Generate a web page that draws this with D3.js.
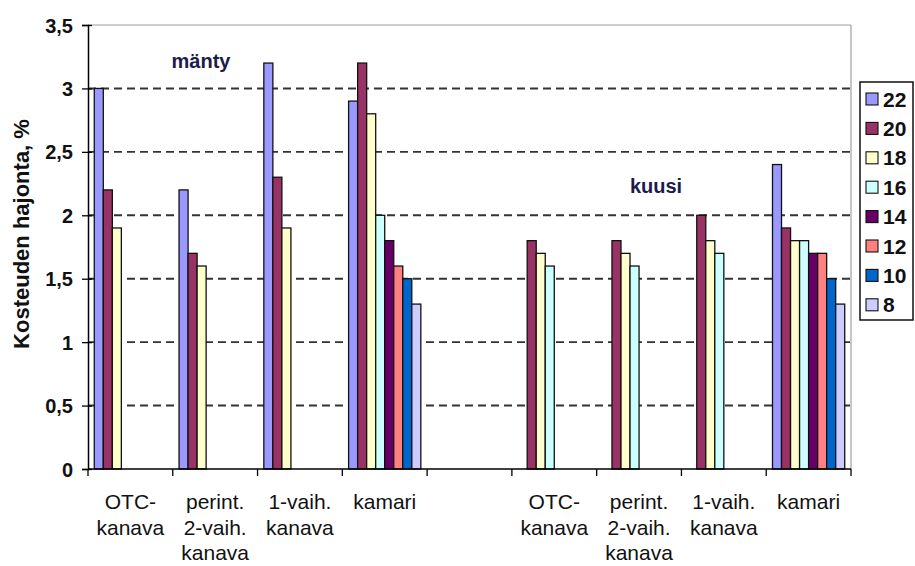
<!DOCTYPE html>
<html><head><meta charset="utf-8">
<script src="https://cdn.jsdelivr.net/npm/d3@7/dist/d3.min.js"></script>
<style>body{margin:0;background:#fff}svg{display:block}</style>
</head><body>
<svg id="chart" width="915" height="566"></svg>
<script>
// ---- data ----
const series = ["22","20","18","16","14","12","10","8"];
const seriesColors = ["#9999FF","#993366","#FFFFCC","#CCFFFF","#660066","#FF8080","#0066CC","#CCCCFF"];
const categoryIds = ["m1","m2","m3","m4","gap","k1","k2","k3","k4"];
const categoryLabels = [["OTC-","kanava"],["perint.","2-vaih.","kanava"],["1-vaih.","kanava"],["kamari"],[],["OTC-","kanava"],["perint.","2-vaih.","kanava"],["1-vaih.","kanava"],["kamari"]];
// values per category, in order of series 22,20,18,16,14,12,10,8 (null = no bar)
const manty_OTC    = [3.0, 2.2, 1.9, null, null, null, null, null];
const manty_perint = [2.2, 1.7, 1.6, null, null, null, null, null];
const manty_1vaih  = [3.2, 2.3, 1.9, null, null, null, null, null];
const manty_kamari = [2.9, 3.2, 2.8, 2.0, 1.8, 1.6, 1.5, 1.3];
const gapValues    = [null, null, null, null, null, null, null, null];
const kuusi_OTC    = [null, 1.8, 1.7, 1.6, null, null, null, null];
const kuusi_perint = [null, 1.8, 1.7, 1.6, null, null, null, null];
const kuusi_1vaih  = [null, 2.0, 1.8, 1.7, null, null, null, null];
const kuusi_kamari = [2.4, 1.9, 1.8, 1.8, 1.7, 1.7, 1.5, 1.3];
const yTicks = [0,0.5,1,1.5,2,2.5,3,3.5];
const yTitle = "Kosteuden hajonta, %";
const groupTitles = ["mänty", "kuusi"];

const allValues = [manty_OTC, manty_perint, manty_1vaih, manty_kamari, gapValues, kuusi_OTC, kuusi_perint, kuusi_1vaih, kuusi_kamari];

// ---- layout ----
const svg = d3.select("#chart");
const L = 88, R = 851, T = 25, B = 469;
const y = d3.scaleLinear().domain([0,3.5]).range([B,T]);
const x0 = d3.scaleBand().domain(categoryIds).range([L,R]).padding(0);
const bw = x0.bandwidth();
const x1 = d3.scaleBand().domain(series).range([bw*0.074, bw*(1-0.074)]).padding(0);
const color = d3.scaleOrdinal().domain(series).range(seriesColors);
const fontB = "'Liberation Sans', Arial, sans-serif";

// plot border (top & right)
svg.append("line").attr("x1",L).attr("x2",R).attr("y1",T).attr("y2",T).attr("stroke","#a0a0a0").attr("stroke-width",1.2);
svg.append("line").attr("x1",R).attr("x2",R).attr("y1",T).attr("y2",B).attr("stroke","#a0a0a0").attr("stroke-width",1.2);

// gridlines
svg.append("g").selectAll("line").data(yTicks.filter(t=>t>0 && t<3.5)).join("line")
  .attr("x1",L).attr("x2",R).attr("y1",d=>y(d)).attr("y2",d=>y(d))
  .attr("stroke","#333").attr("stroke-width",1.9).attr("stroke-dasharray","8,5");

// bars
const groups = svg.append("g").selectAll("g").data(categoryIds).join("g")
  .attr("transform",d=>`translate(${x0(d)},0)`);
groups.selectAll("rect").data((d,i)=>series.map((s,j)=>({s, v: allValues[i][j]})).filter(e=>e.v!=null)).join("rect")
  .attr("x",d=>x1(d.s)).attr("width",x1.bandwidth())
  .attr("y",d=>y(d.v)).attr("height",d=>B-y(d.v))
  .attr("fill",d=>color(d.s)).attr("stroke","#111").attr("stroke-width",1.3);

// y axis
const yAxis = d3.axisLeft(y).tickValues(yTicks).tickSize(6).tickFormat(d=>d3.format("")(d).replace(".",","));
const ya = svg.append("g").attr("transform",`translate(${L},0)`).call(yAxis);
ya.select(".domain").attr("stroke","#000").attr("stroke-width",1.5);
ya.selectAll(".tick line").attr("stroke","#000").attr("stroke-width",1.3).attr("x2",-6).attr("x1",4);
ya.selectAll(".tick text").attr("x",-15).attr("dy","0.35em")
  .style("font-family",fontB).style("font-size","20px").style("font-weight","bold").attr("fill","#111");

// x axis (ticks at band boundaries)
const boundaries = categoryIds.map(c=>x0(c)).concat([R]);
svg.append("line").attr("x1",L).attr("x2",R).attr("y1",B).attr("y2",B).attr("stroke","#000").attr("stroke-width",1.5);
svg.append("g").selectAll("line").data(boundaries).join("line")
  .attr("x1",d=>d).attr("x2",d=>d).attr("y1",B).attr("y2",B+7).attr("stroke","#000").attr("stroke-width",1.3);

// category labels
const lab = svg.append("g").selectAll("text").data(categoryIds).join("text")
  .attr("text-anchor","middle")
  .style("font-family","'Liberation Sans', Arial, sans-serif").style("font-size","21px").attr("fill","#111");
lab.each(function(d,i){
  const t = d3.select(this);
  categoryLabels[i].forEach((ln,k)=>{
    t.append("tspan").attr("x",x0(d)+bw/2).attr("y",509+k*25.5).text(ln);
  });
});

// y title
svg.append("text").attr("transform","translate(29,234) rotate(-90)").attr("text-anchor","middle")
  .style("font-family",fontB).style("font-size","22px").style("font-weight","bold").attr("fill","#111").text(yTitle);

// group titles
svg.append("text").attr("x",201).attr("y",68).attr("text-anchor","middle")
  .style("font-family",fontB).style("font-size","20px").style("font-weight","bold").attr("fill","#1c1c4c").text(groupTitles[0]);
svg.append("text").attr("x",656).attr("y",193).attr("text-anchor","middle")
  .style("font-family",fontB).style("font-size","20px").style("font-weight","bold").attr("fill","#1c1c4c").text(groupTitles[1]);

// legend
const lg = svg.append("g");
lg.append("rect").attr("x",860).attr("y",82).attr("width",53).attr("height",238).attr("fill","#fff").attr("stroke","#111").attr("stroke-width",1.5);
const li = lg.selectAll("g").data(series).join("g").attr("transform",(d,i)=>`translate(0,${99+i*29.4})`);
li.append("rect").attr("x",866).attr("y",-6).attr("width",12).attr("height",12).attr("fill",d=>color(d)).attr("stroke","#111").attr("stroke-width",1.1);
li.append("text").attr("x",883).attr("dy","0.36em").text(d=>d)
  .style("font-family",fontB).style("font-size","21px").style("font-weight","bold").attr("fill","#111");
</script>
</body></html>
